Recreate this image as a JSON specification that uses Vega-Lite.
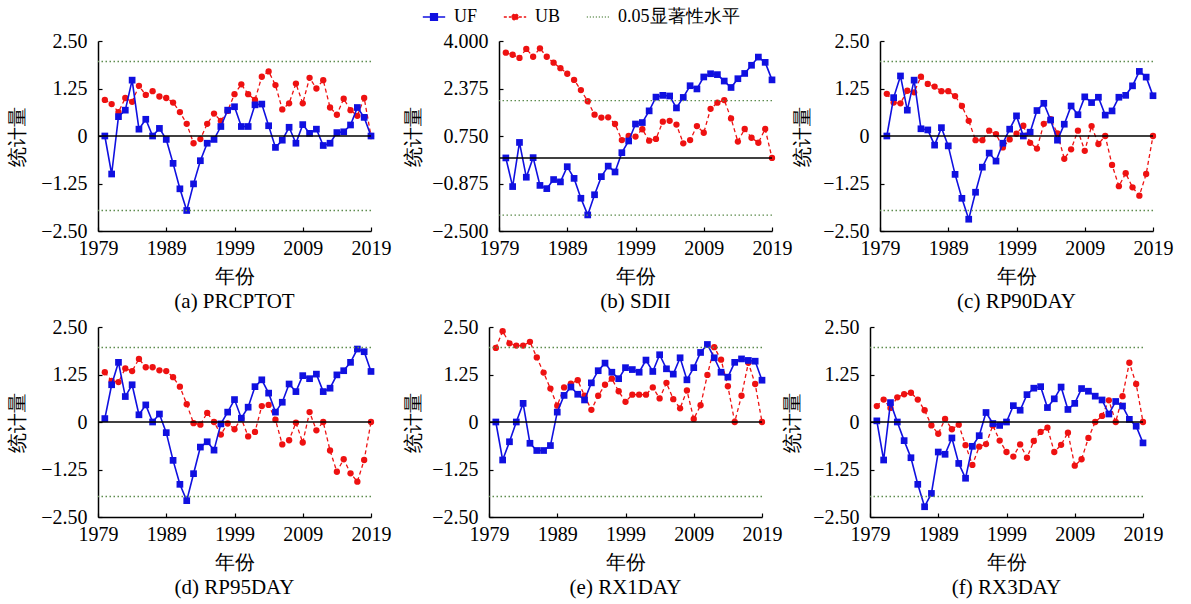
{
"$schema": "https://vega.github.io/schema/vega-lite/v6.json",
"background": "white",
"padding": {"left": 7, "top": 5, "right": 5, "bottom": 3},
"datasets": {
"th": [{"s":"0.05显著性水平","v":1.96},{"s":"0.05显著性水平","v":-1.96}],
"d": [
{"p":"a","t":1980,"UF":0,"UB":0.95},{"p":"a","t":1981,"UF":-1.0,"UB":0.84},{"p":"a","t":1982,"UF":0.51,"UB":0.63},{"p":"a","t":1983,"UF":0.68,"UB":1.0},{"p":"a","t":1984,"UF":1.47,"UB":0.9},{"p":"a","t":1985,"UF":0.18,"UB":1.32},{"p":"a","t":1986,"UF":0.44,"UB":1.08},{"p":"a","t":1987,"UF":0.0,"UB":1.18},{"p":"a","t":1988,"UF":0.2,"UB":1.04},{"p":"a","t":1989,"UF":-0.09,"UB":1.0},
{"p":"a","t":1990,"UF":-0.72,"UB":0.88},{"p":"a","t":1991,"UF":-1.39,"UB":0.63},{"p":"a","t":1992,"UF":-1.96,"UB":0.32},{"p":"a","t":1993,"UF":-1.26,"UB":-0.19},{"p":"a","t":1994,"UF":-0.65,"UB":-0.08},{"p":"a","t":1995,"UF":-0.19,"UB":0.32},{"p":"a","t":1996,"UF":-0.09,"UB":0.59},{"p":"a","t":1997,"UF":0.25,"UB":0.4},{"p":"a","t":1998,"UF":0.68,"UB":0.66},{"p":"a","t":1999,"UF":0.77,"UB":1.1},
{"p":"a","t":2000,"UF":0.25,"UB":1.36},{"p":"a","t":2001,"UF":0.25,"UB":1.1},{"p":"a","t":2002,"UF":0.82,"UB":0.95},{"p":"a","t":2003,"UF":0.84,"UB":1.56},{"p":"a","t":2004,"UF":0.27,"UB":1.7},{"p":"a","t":2005,"UF":-0.3,"UB":1.34},{"p":"a","t":2006,"UF":-0.11,"UB":0.7},{"p":"a","t":2007,"UF":0.23,"UB":0.86},{"p":"a","t":2008,"UF":-0.19,"UB":1.38},{"p":"a","t":2009,"UF":0.3,"UB":0.86},
{"p":"a","t":2010,"UF":0.07,"UB":1.53},{"p":"a","t":2011,"UF":0.18,"UB":1.25},{"p":"a","t":2012,"UF":-0.25,"UB":1.47},{"p":"a","t":2013,"UF":-0.19,"UB":0.75},{"p":"a","t":2014,"UF":0.09,"UB":0.56},{"p":"a","t":2015,"UF":0.11,"UB":0.98},{"p":"a","t":2016,"UF":0.29,"UB":0.68},{"p":"a","t":2017,"UF":0.75,"UB":0.53},{"p":"a","t":2018,"UF":0.49,"UB":1.0},{"p":"a","t":2019,"UF":0,"UB":0},
{"p":"b","t":1980,"UF":0,"UB":3.6},{"p":"b","t":1981,"UF":-0.98,"UB":3.53},{"p":"b","t":1982,"UF":0.53,"UB":3.42},{"p":"b","t":1983,"UF":-0.66,"UB":3.73},{"p":"b","t":1984,"UF":0.01,"UB":3.46},{"p":"b","t":1985,"UF":-0.94,"UB":3.75},{"p":"b","t":1986,"UF":-1.05,"UB":3.46},{"p":"b","t":1987,"UF":-0.74,"UB":3.26},{"p":"b","t":1988,"UF":-0.82,"UB":3.07},{"p":"b","t":1989,"UF":-0.3,"UB":2.88},
{"p":"b","t":1990,"UF":-0.7,"UB":2.67},{"p":"b","t":1991,"UF":-1.38,"UB":2.32},{"p":"b","t":1992,"UF":-1.95,"UB":1.94},{"p":"b","t":1993,"UF":-1.26,"UB":1.48},{"p":"b","t":1994,"UF":-0.64,"UB":1.38},{"p":"b","t":1995,"UF":-0.28,"UB":1.39},{"p":"b","t":1996,"UF":-0.48,"UB":1.16},{"p":"b","t":1997,"UF":0.18,"UB":0.61},{"p":"b","t":1998,"UF":0.58,"UB":0.75},{"p":"b","t":1999,"UF":1.16,"UB":0.73},
{"p":"b","t":2000,"UF":1.21,"UB":0.98},{"p":"b","t":2001,"UF":1.61,"UB":0.59},{"p":"b","t":2002,"UF":2.08,"UB":0.65},{"p":"b","t":2003,"UF":2.14,"UB":1.24},{"p":"b","t":2004,"UF":2.12,"UB":1.27},{"p":"b","t":2005,"UF":1.71,"UB":1.14},{"p":"b","t":2006,"UF":2.07,"UB":0.5},{"p":"b","t":2007,"UF":2.47,"UB":0.61},{"p":"b","t":2008,"UF":2.36,"UB":1.09},{"p":"b","t":2009,"UF":2.77,"UB":0.86},
{"p":"b","t":2010,"UF":2.88,"UB":1.68},{"p":"b","t":2011,"UF":2.85,"UB":1.89},{"p":"b","t":2012,"UF":2.63,"UB":1.98},{"p":"b","t":2013,"UF":2.41,"UB":1.35},{"p":"b","t":2014,"UF":2.71,"UB":0.56},{"p":"b","t":2015,"UF":2.89,"UB":0.99},{"p":"b","t":2016,"UF":3.17,"UB":0.69},{"p":"b","t":2017,"UF":3.45,"UB":0.52},{"p":"b","t":2018,"UF":3.27,"UB":0.99},{"p":"b","t":2019,"UF":2.67,"UB":0},
{"p":"c","t":1980,"UF":0,"UB":1.11},{"p":"c","t":1981,"UF":1.01,"UB":0.88},{"p":"c","t":1982,"UF":1.58,"UB":0.86},{"p":"c","t":1983,"UF":0.68,"UB":1.19},{"p":"c","t":1984,"UF":1.47,"UB":1.15},{"p":"c","t":1985,"UF":0.19,"UB":1.56},{"p":"c","t":1986,"UF":0.16,"UB":1.37},{"p":"c","t":1987,"UF":-0.24,"UB":1.3},{"p":"c","t":1988,"UF":0.22,"UB":1.18},{"p":"c","t":1989,"UF":-0.26,"UB":1.18},
{"p":"c","t":1990,"UF":-1.01,"UB":1.05},{"p":"c","t":1991,"UF":-1.64,"UB":0.79},{"p":"c","t":1992,"UF":-2.19,"UB":0.4},{"p":"c","t":1993,"UF":-1.48,"UB":-0.11},{"p":"c","t":1994,"UF":-0.82,"UB":-0.11},{"p":"c","t":1995,"UF":-0.45,"UB":0.14},{"p":"c","t":1996,"UF":-0.66,"UB":0.05},{"p":"c","t":1997,"UF":-0.19,"UB":-0.3},{"p":"c","t":1998,"UF":0.18,"UB":-0.09},{"p":"c","t":1999,"UF":0.53,"UB":0.06},
{"p":"c","t":2000,"UF":0,"UB":0.27},{"p":"c","t":2001,"UF":0.1,"UB":-0.18},{"p":"c","t":2002,"UF":0.67,"UB":-0.33},{"p":"c","t":2003,"UF":0.86,"UB":0.32},{"p":"c","t":2004,"UF":0.42,"UB":0.44},{"p":"c","t":2005,"UF":-0.11,"UB":0.07},{"p":"c","t":2006,"UF":0.31,"UB":-0.6},{"p":"c","t":2007,"UF":0.79,"UB":-0.35},{"p":"c","t":2008,"UF":0.56,"UB":0.14},{"p":"c","t":2009,"UF":1.03,"UB":-0.39},
{"p":"c","t":2010,"UF":0.88,"UB":0.26},{"p":"c","t":2011,"UF":1.02,"UB":-0.21},{"p":"c","t":2012,"UF":0.55,"UB":0},{"p":"c","t":2013,"UF":0.66,"UB":-0.76},{"p":"c","t":2014,"UF":1.02,"UB":-1.32},{"p":"c","t":2015,"UF":1.07,"UB":-0.98},{"p":"c","t":2016,"UF":1.32,"UB":-1.35},{"p":"c","t":2017,"UF":1.7,"UB":-1.57},{"p":"c","t":2018,"UF":1.55,"UB":-1.0},{"p":"c","t":2019,"UF":1.06,"UB":0},
{"p":"d","t":1980,"UF":0.09,"UB":1.31},{"p":"d","t":1981,"UF":0.98,"UB":1.08},{"p":"d","t":1982,"UF":1.57,"UB":1.05},{"p":"d","t":1983,"UF":0.67,"UB":1.41},{"p":"d","t":1984,"UF":0.98,"UB":1.34},{"p":"d","t":1985,"UF":0.19,"UB":1.66},{"p":"d","t":1986,"UF":0.45,"UB":1.44},{"p":"d","t":1987,"UF":0,"UB":1.44},{"p":"d","t":1988,"UF":0.21,"UB":1.36},{"p":"d","t":1989,"UF":-0.28,"UB":1.34},
{"p":"d","t":1990,"UF":-1.01,"UB":1.18},{"p":"d","t":1991,"UF":-1.64,"UB":0.93},{"p":"d","t":1992,"UF":-2.07,"UB":0.47},{"p":"d","t":1993,"UF":-1.36,"UB":-0.03},{"p":"d","t":1994,"UF":-0.66,"UB":-0.07},{"p":"d","t":1995,"UF":-0.52,"UB":0.24},{"p":"d","t":1996,"UF":-0.74,"UB":0},{"p":"d","t":1997,"UF":-0.05,"UB":-0.33},{"p":"d","t":1998,"UF":0.26,"UB":-0.04},{"p":"d","t":1999,"UF":0.59,"UB":-0.19},
{"p":"d","t":2000,"UF":0.1,"UB":0.09},{"p":"d","t":2001,"UF":0.39,"UB":-0.38},{"p":"d","t":2002,"UF":0.93,"UB":-0.26},{"p":"d","t":2003,"UF":1.11,"UB":0.42},{"p":"d","t":2004,"UF":0.76,"UB":0.45},{"p":"d","t":2005,"UF":0.26,"UB":0.06},{"p":"d","t":2006,"UF":0.52,"UB":-0.59},{"p":"d","t":2007,"UF":1.0,"UB":-0.48},{"p":"d","t":2008,"UF":0.8,"UB":-0.02},{"p":"d","t":2009,"UF":1.22,"UB":-0.54},
{"p":"d","t":2010,"UF":1.14,"UB":0.26},{"p":"d","t":2011,"UF":1.26,"UB":-0.22},{"p":"d","t":2012,"UF":0.8,"UB":0},{"p":"d","t":2013,"UF":0.89,"UB":-0.75},{"p":"d","t":2014,"UF":1.24,"UB":-1.31},{"p":"d","t":2015,"UF":1.35,"UB":-0.98},{"p":"d","t":2016,"UF":1.57,"UB":-1.35},{"p":"d","t":2017,"UF":1.92,"UB":-1.57},{"p":"d","t":2018,"UF":1.85,"UB":-1.0},{"p":"d","t":2019,"UF":1.33,"UB":0},
{"p":"e","t":1980,"UF":0,"UB":1.95},{"p":"e","t":1981,"UF":-1.0,"UB":2.39},{"p":"e","t":1982,"UF":-0.52,"UB":2.07},{"p":"e","t":1983,"UF":0,"UB":2.01},{"p":"e","t":1984,"UF":0.49,"UB":2.01},{"p":"e","t":1985,"UF":-0.56,"UB":2.11},{"p":"e","t":1986,"UF":-0.75,"UB":1.7},{"p":"e","t":1987,"UF":-0.75,"UB":1.3},{"p":"e","t":1988,"UF":-0.62,"UB":0.88},{"p":"e","t":1989,"UF":0.26,"UB":0.43},
{"p":"e","t":1990,"UF":0.7,"UB":0.91},{"p":"e","t":1991,"UF":0.92,"UB":1.01},{"p":"e","t":1992,"UF":0.73,"UB":1.1},{"p":"e","t":1993,"UF":0.58,"UB":0.69},{"p":"e","t":1994,"UF":1.03,"UB":0.32},{"p":"e","t":1995,"UF":1.35,"UB":0.69},{"p":"e","t":1996,"UF":1.55,"UB":0.98},{"p":"e","t":1997,"UF":1.31,"UB":1.14},{"p":"e","t":1998,"UF":1.14,"UB":0.81},{"p":"e","t":1999,"UF":1.43,"UB":0.53},
{"p":"e","t":2000,"UF":1.38,"UB":0.72},{"p":"e","t":2001,"UF":1.31,"UB":0.72},{"p":"e","t":2002,"UF":1.63,"UB":0.72},{"p":"e","t":2003,"UF":1.33,"UB":0.91},{"p":"e","t":2004,"UF":1.77,"UB":0.62},{"p":"e","t":2005,"UF":1.4,"UB":1.03},{"p":"e","t":2006,"UF":1.26,"UB":0.6},{"p":"e","t":2007,"UF":1.69,"UB":0.36},{"p":"e","t":2008,"UF":1.11,"UB":0.83},{"p":"e","t":2009,"UF":1.43,"UB":0.08},
{"p":"e","t":2010,"UF":1.83,"UB":0.44},{"p":"e","t":2011,"UF":2.04,"UB":1.24},{"p":"e","t":2012,"UF":1.69,"UB":1.97},{"p":"e","t":2013,"UF":1.31,"UB":1.64},{"p":"e","t":2014,"UF":1.18,"UB":0.94},{"p":"e","t":2015,"UF":1.57,"UB":0},{"p":"e","t":2016,"UF":1.66,"UB":0.69},{"p":"e","t":2017,"UF":1.62,"UB":1.56},{"p":"e","t":2018,"UF":1.6,"UB":1.0},{"p":"e","t":2019,"UF":1.1,"UB":0},
{"p":"f","t":1980,"UF":0.03,"UB":0.42},{"p":"f","t":1981,"UF":-1.0,"UB":0.59},{"p":"f","t":1982,"UF":0.51,"UB":0.37},{"p":"f","t":1983,"UF":0,"UB":0.65},{"p":"f","t":1984,"UF":-0.49,"UB":0.73},{"p":"f","t":1985,"UF":-0.94,"UB":0.77},{"p":"f","t":1986,"UF":-1.64,"UB":0.59},{"p":"f","t":1987,"UF":-2.23,"UB":0.31},{"p":"f","t":1988,"UF":-1.88,"UB":-0.09},{"p":"f","t":1989,"UF":-0.79,"UB":-0.31},
{"p":"f","t":1990,"UF":-0.85,"UB":0.08},{"p":"f","t":1991,"UF":-0.42,"UB":-0.19},{"p":"f","t":1992,"UF":-1.09,"UB":-0.07},{"p":"f","t":1993,"UF":-1.48,"UB":-0.61},{"p":"f","t":1994,"UF":-0.64,"UB":-1.13},{"p":"f","t":1995,"UF":-0.36,"UB":-0.65},{"p":"f","t":1996,"UF":0.25,"UB":-0.58},{"p":"f","t":1997,"UF":-0.04,"UB":-0.09},{"p":"f","t":1998,"UF":-0.09,"UB":-0.49},{"p":"f","t":1999,"UF":0,"UB":-0.79},
{"p":"f","t":2000,"UF":0.43,"UB":-0.91},{"p":"f","t":2001,"UF":0.31,"UB":-0.59},{"p":"f","t":2002,"UF":0.72,"UB":-0.94},{"p":"f","t":2003,"UF":0.89,"UB":-0.5},{"p":"f","t":2004,"UF":0.93,"UB":-0.26},{"p":"f","t":2005,"UF":0.38,"UB":-0.15},{"p":"f","t":2006,"UF":0.61,"UB":-0.79},{"p":"f","t":2007,"UF":0.92,"UB":-0.6},{"p":"f","t":2008,"UF":0.33,"UB":-0.28},{"p":"f","t":2009,"UF":0.49,"UB":-1.15},
{"p":"f","t":2010,"UF":0.88,"UB":-0.98},{"p":"f","t":2011,"UF":0.81,"UB":-0.42},{"p":"f","t":2012,"UF":0.68,"UB":0},{"p":"f","t":2013,"UF":0.58,"UB":0.16},{"p":"f","t":2014,"UF":0.21,"UB":0.57},{"p":"f","t":2015,"UF":0.54,"UB":0},{"p":"f","t":2016,"UF":0.42,"UB":0.68},{"p":"f","t":2017,"UF":0.07,"UB":1.56},{"p":"f","t":2018,"UF":-0.11,"UB":1.0},{"p":"f","t":2019,"UF":-0.55,"UB":0}
]
},
"vconcat": [
{"hconcat": [
{"hconcat": [
{"width": 273, "height": 190, "title": {"text": "(a) PRCPTOT"},
 "layer": [
  {"data": {"name": "d"}, "transform": [{"filter": "datum.p == 'a'"}, {"fold": ["UF", "UB"], "as": ["s", "v"]}],
   "encoding": {
    "x": {"field": "t", "type": "quantitative", "scale": {"domain": [1979, 2019], "nice": false, "zero": false}, "axis": {"title": "年份", "values": [1979, 1989, 1999, 2009, 2019], "format": "d", "labelFlush": false, "labelOverlap": false}},
    "y": {"field": "v", "type": "quantitative", "scale": {"domain": [-2.5, 2.5], "nice": false, "zero": false}, "axis": {"title": "统计量", "values": [-2.5, -1.25, 0, 1.25, 2.5], "labelExpr": "datum.value == 0 ? '0' : format(datum.value, '.2f')", "labelFlush": false, "labelOverlap": false}}},
   "layer": [
    {"transform": [{"filter": "datum.s == 'UB'"}], "mark": {"type": "line", "color": "#ee1111", "strokeWidth": 1.3, "strokeDash": [4, 3]}, "encoding": {}},
    {"transform": [{"filter": "datum.s == 'UB'"}], "mark": {"type": "point", "shape": "circle", "filled": true, "color": "#ee1111", "size": 40, "opacity": 1}},
    {"transform": [{"filter": "datum.s == 'UF'"}], "mark": {"type": "line", "color": "#1010e0", "strokeWidth": 1.6}, "encoding": {}},
    {"transform": [{"filter": "datum.s == 'UF'"}], "mark": {"type": "point", "shape": "square", "filled": true, "color": "#1010e0", "size": 45, "opacity": 1}}
   ]},
  {"data": {"name": "th"}, "mark": {"type": "rule", "strokeDash": [1.5, 2.5], "strokeWidth": 1.3},
   "encoding": {
    "y": {"field": "v", "type": "quantitative"},
    "color": {"field": "s", "type": "nominal", "scale": {"domain": ["UF", "UB", "0.05显著性水平"], "range": ["#1010e0", "#ee1111", "#5e8c4e"]},
     "legend": {"orient": "none", "legendX": 324, "legendY": -36, "direction": "horizontal", "title": null,
       "labelFont": "Liberation Serif", "labelFontSize": 18, "labelColor": "black", "labelOffset": 8,
       "symbolSize": 500, "symbolStrokeWidth": 1.5, "columnPadding": 22,
       "encode": {"symbols": {"update": {
         "shape": {"signal": "datum.value === 'UF' ? 'M-1,0H1M-0.3,-0.3H0.3V0.3H-0.3Z' : datum.value === 'UB' ? 'M-1,0H1M0.27,0A0.27,0.27 0 1,1 -0.27,0A0.27,0.27 0 1,1 0.27,0' : 'M-1,0H1'"},
         "fill": {"signal": "datum.value === 'UF' ? '#1010e0' : datum.value === 'UB' ? '#ee1111' : 'transparent'"},
         "stroke": {"signal": "datum.value === 'UF' ? '#1010e0' : datum.value === 'UB' ? '#ee1111' : '#5e8c4e'"},
         "strokeDash": {"signal": "datum.value === 'UB' ? [3, 2] : datum.value === 'UF' ? [1, 0] : [1, 2]"}
       }}}}}
   }},
  {"data": {"values": [{}]}, "mark": {"type": "rule", "color": "black", "strokeWidth": 1.5}, "encoding": {"y": {"datum": 0}}}
 ]},
{"width": 273, "height": 190, "title": {"text": "(b) SDII"},
 "layer": [
  {"data": {"name": "d"}, "transform": [{"filter": "datum.p == 'b'"}, {"fold": ["UF", "UB"], "as": ["s", "v"]}],
   "encoding": {
    "x": {"field": "t", "type": "quantitative", "scale": {"domain": [1979, 2019], "nice": false, "zero": false}, "axis": {"title": "年份", "values": [1979, 1989, 1999, 2009, 2019], "format": "d", "labelFlush": false, "labelOverlap": false}},
    "y": {"field": "v", "type": "quantitative", "scale": {"domain": [-2.5, 4], "nice": false, "zero": false}, "axis": {"title": "统计量", "titlePadding": 8, "values": [-2.5, -0.875, 0.75, 2.375, 4], "format": ".3f", "labelFlush": false, "labelOverlap": false}}},
   "layer": [
    {"transform": [{"filter": "datum.s == 'UB'"}], "mark": {"type": "line", "color": "#ee1111", "strokeWidth": 1.3, "strokeDash": [4, 3]}, "encoding": {}},
    {"transform": [{"filter": "datum.s == 'UB'"}], "mark": {"type": "point", "shape": "circle", "filled": true, "color": "#ee1111", "size": 40, "opacity": 1}},
    {"transform": [{"filter": "datum.s == 'UF'"}], "mark": {"type": "line", "color": "#1010e0", "strokeWidth": 1.6}, "encoding": {}},
    {"transform": [{"filter": "datum.s == 'UF'"}], "mark": {"type": "point", "shape": "square", "filled": true, "color": "#1010e0", "size": 45, "opacity": 1}}
   ]},
  {"data": {"name": "th"}, "mark": {"type": "rule", "strokeDash": [1.5, 2.5], "strokeWidth": 1.3, "color": "#5e8c4e"},
   "encoding": {"y": {"field": "v", "type": "quantitative"}}},
  {"data": {"values": [{}]}, "mark": {"type": "rule", "color": "black", "strokeWidth": 1.5}, "encoding": {"y": {"datum": 0}}}
 ]}
], "spacing": 12},
{"width": 273, "height": 190, "title": {"text": "(c) RP90DAY"},
 "layer": [
  {"data": {"name": "d"}, "transform": [{"filter": "datum.p == 'c'"}, {"fold": ["UF", "UB"], "as": ["s", "v"]}],
   "encoding": {
    "x": {"field": "t", "type": "quantitative", "scale": {"domain": [1979, 2019], "nice": false, "zero": false}, "axis": {"title": "年份", "values": [1979, 1989, 1999, 2009, 2019], "format": "d", "labelFlush": false, "labelOverlap": false}},
    "y": {"field": "v", "type": "quantitative", "scale": {"domain": [-2.5, 2.5], "nice": false, "zero": false}, "axis": {"title": "统计量", "titlePadding": 10, "values": [-2.5, -1.25, 0, 1.25, 2.5], "labelExpr": "datum.value == 0 ? '0' : format(datum.value, '.2f')", "labelFlush": false, "labelOverlap": false}}},
   "layer": [
    {"transform": [{"filter": "datum.s == 'UB'"}], "mark": {"type": "line", "color": "#ee1111", "strokeWidth": 1.3, "strokeDash": [4, 3]}, "encoding": {}},
    {"transform": [{"filter": "datum.s == 'UB'"}], "mark": {"type": "point", "shape": "circle", "filled": true, "color": "#ee1111", "size": 40, "opacity": 1}},
    {"transform": [{"filter": "datum.s == 'UF'"}], "mark": {"type": "line", "color": "#1010e0", "strokeWidth": 1.6}, "encoding": {}},
    {"transform": [{"filter": "datum.s == 'UF'"}], "mark": {"type": "point", "shape": "square", "filled": true, "color": "#1010e0", "size": 45, "opacity": 1}}
   ]},
  {"data": {"name": "th"}, "mark": {"type": "rule", "strokeDash": [1.5, 2.5], "strokeWidth": 1.3, "color": "#5e8c4e"},
   "encoding": {"y": {"field": "v", "type": "quantitative"}}},
  {"data": {"values": [{}]}, "mark": {"type": "rule", "color": "black", "strokeWidth": 1.5}, "encoding": {"y": {"datum": 0}}}
 ]}
], "spacing": 0},
{"hconcat": [
{"hconcat": [
{"width": 273, "height": 190, "title": {"text": "(d) RP95DAY"},
 "layer": [
  {"data": {"name": "d"}, "transform": [{"filter": "datum.p == 'd'"}, {"fold": ["UF", "UB"], "as": ["s", "v"]}],
   "encoding": {
    "x": {"field": "t", "type": "quantitative", "scale": {"domain": [1979, 2019], "nice": false, "zero": false}, "axis": {"title": "年份", "values": [1979, 1989, 1999, 2009, 2019], "format": "d", "labelFlush": false, "labelOverlap": false}},
    "y": {"field": "v", "type": "quantitative", "scale": {"domain": [-2.5, 2.5], "nice": false, "zero": false}, "axis": {"title": "统计量", "values": [-2.5, -1.25, 0, 1.25, 2.5], "labelExpr": "datum.value == 0 ? '0' : format(datum.value, '.2f')", "labelFlush": false, "labelOverlap": false}}},
   "layer": [
    {"transform": [{"filter": "datum.s == 'UB'"}], "mark": {"type": "line", "color": "#ee1111", "strokeWidth": 1.3, "strokeDash": [4, 3]}, "encoding": {}},
    {"transform": [{"filter": "datum.s == 'UB'"}], "mark": {"type": "point", "shape": "circle", "filled": true, "color": "#ee1111", "size": 40, "opacity": 1}},
    {"transform": [{"filter": "datum.s == 'UF'"}], "mark": {"type": "line", "color": "#1010e0", "strokeWidth": 1.6}, "encoding": {}},
    {"transform": [{"filter": "datum.s == 'UF'"}], "mark": {"type": "point", "shape": "square", "filled": true, "color": "#1010e0", "size": 45, "opacity": 1}}
   ]},
  {"data": {"name": "th"}, "mark": {"type": "rule", "strokeDash": [1.5, 2.5], "strokeWidth": 1.3, "color": "#5e8c4e"},
   "encoding": {"y": {"field": "v", "type": "quantitative"}}},
  {"data": {"values": [{}]}, "mark": {"type": "rule", "color": "black", "strokeWidth": 1.5}, "encoding": {"y": {"datum": 0}}}
 ]},
{"width": 273, "height": 190, "title": {"text": "(e) RX1DAY"},
 "layer": [
  {"data": {"name": "d"}, "transform": [{"filter": "datum.p == 'e'"}, {"fold": ["UF", "UB"], "as": ["s", "v"]}],
   "encoding": {
    "x": {"field": "t", "type": "quantitative", "scale": {"domain": [1979, 2019], "nice": false, "zero": false}, "axis": {"title": "年份", "values": [1979, 1989, 1999, 2009, 2019], "format": "d", "labelFlush": false, "labelOverlap": false}},
    "y": {"field": "v", "type": "quantitative", "scale": {"domain": [-2.5, 2.5], "nice": false, "zero": false}, "axis": {"title": "统计量", "titlePadding": 8, "values": [-2.5, -1.25, 0, 1.25, 2.5], "labelExpr": "datum.value == 0 ? '0' : format(datum.value, '.2f')", "labelFlush": false, "labelOverlap": false}}},
   "layer": [
    {"transform": [{"filter": "datum.s == 'UB'"}], "mark": {"type": "line", "color": "#ee1111", "strokeWidth": 1.3, "strokeDash": [4, 3]}, "encoding": {}},
    {"transform": [{"filter": "datum.s == 'UB'"}], "mark": {"type": "point", "shape": "circle", "filled": true, "color": "#ee1111", "size": 40, "opacity": 1}},
    {"transform": [{"filter": "datum.s == 'UF'"}], "mark": {"type": "line", "color": "#1010e0", "strokeWidth": 1.6}, "encoding": {}},
    {"transform": [{"filter": "datum.s == 'UF'"}], "mark": {"type": "point", "shape": "square", "filled": true, "color": "#1010e0", "size": 45, "opacity": 1}}
   ]},
  {"data": {"name": "th"}, "mark": {"type": "rule", "strokeDash": [1.5, 2.5], "strokeWidth": 1.3, "color": "#5e8c4e"},
   "encoding": {"y": {"field": "v", "type": "quantitative"}}},
  {"data": {"values": [{}]}, "mark": {"type": "rule", "color": "black", "strokeWidth": 1.5}, "encoding": {"y": {"datum": 0}}}
 ]}
], "spacing": 12},
{"width": 273, "height": 190, "title": {"text": "(f) RX3DAY"},
 "layer": [
  {"data": {"name": "d"}, "transform": [{"filter": "datum.p == 'f'"}, {"fold": ["UF", "UB"], "as": ["s", "v"]}],
   "encoding": {
    "x": {"field": "t", "type": "quantitative", "scale": {"domain": [1979, 2019], "nice": false, "zero": false}, "axis": {"title": "年份", "values": [1979, 1989, 1999, 2009, 2019], "format": "d", "labelFlush": false, "labelOverlap": false}},
    "y": {"field": "v", "type": "quantitative", "scale": {"domain": [-2.5, 2.5], "nice": false, "zero": false}, "axis": {"title": "统计量", "titlePadding": 10, "values": [-2.5, -1.25, 0, 1.25, 2.5], "labelExpr": "datum.value == 0 ? '0' : format(datum.value, '.2f')", "labelFlush": false, "labelOverlap": false}}},
   "layer": [
    {"transform": [{"filter": "datum.s == 'UB'"}], "mark": {"type": "line", "color": "#ee1111", "strokeWidth": 1.3, "strokeDash": [4, 3]}, "encoding": {}},
    {"transform": [{"filter": "datum.s == 'UB'"}], "mark": {"type": "point", "shape": "circle", "filled": true, "color": "#ee1111", "size": 40, "opacity": 1}},
    {"transform": [{"filter": "datum.s == 'UF'"}], "mark": {"type": "line", "color": "#1010e0", "strokeWidth": 1.6}, "encoding": {}},
    {"transform": [{"filter": "datum.s == 'UF'"}], "mark": {"type": "point", "shape": "square", "filled": true, "color": "#1010e0", "size": 45, "opacity": 1}}
   ]},
  {"data": {"name": "th"}, "mark": {"type": "rule", "strokeDash": [1.5, 2.5], "strokeWidth": 1.3, "color": "#5e8c4e"},
   "encoding": {"y": {"field": "v", "type": "quantitative"}}},
  {"data": {"values": [{}]}, "mark": {"type": "rule", "color": "black", "strokeWidth": 1.5}, "encoding": {"y": {"datum": 0}}}
 ]}
], "spacing": 0}
],
"spacing": 5,
"config": {
 "view": {"stroke": null},
 "font": "Liberation Serif",
 "legend": {"labelFont": "Liberation Serif"},
 "axis": {"grid": false, "domainColor": "black", "domainWidth": 1.5, "tickColor": "black", "tickWidth": 1.2, "tickSize": -4,
  "labelFont": "Liberation Serif", "labelFontSize": 20, "labelColor": "black",
  "titleFont": "Liberation Serif", "titleFontSize": 20, "titleFontWeight": "normal", "titleColor": "black"},
 "axisX": {"labelPadding": 11, "titlePadding": 8},
 "axisY": {"labelPadding": 15, "titlePadding": 13},
 "title": {"font": "Liberation Serif", "fontSize": 21, "fontWeight": "normal", "color": "black", "orient": "bottom", "offset": 5}
}
}
